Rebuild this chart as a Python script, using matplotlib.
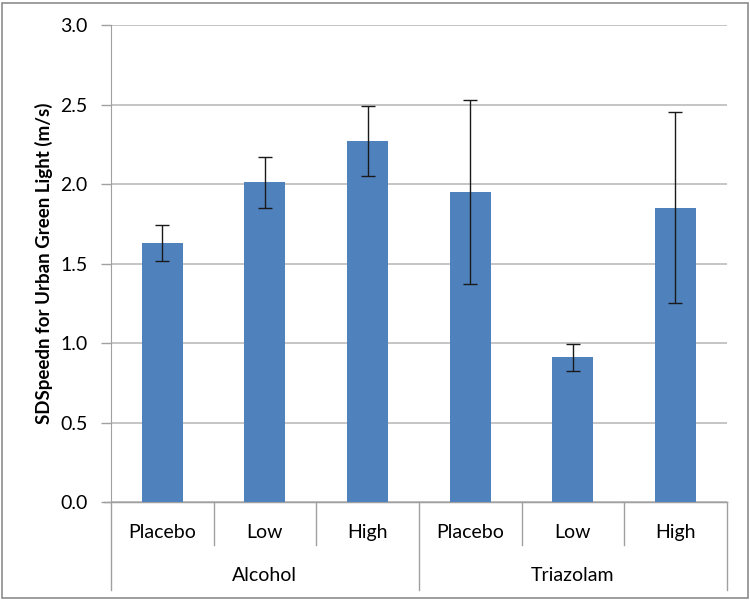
import matplotlib.pyplot as plt
from matplotlib.lines import Line2D
from matplotlib.patches import Rectangle

# data
grupos = ['Alcohol', 'Triazolam']
doses = ['Placebo', 'Low', 'High', 'Placebo', 'Low', 'High']
medias = [1.63, 2.01, 2.27, 1.95, 0.91, 1.85]
erros = [0.115, 0.16, 0.22, 0.58, 0.085, 0.60]

plt.rcParams['font.family'] = ['Lato', 'DejaVu Sans']

fig = plt.figure(figsize=(7.5, 6.01), dpi=100)
ax = fig.add_axes([0.148, 0.1647, 0.821, 0.7937])

x = list(range(len(doses)))
ax.bar(x, medias, width=0.4, color='#4F81BD', zorder=3)
ax.errorbar(x, medias, yerr=erros, fmt='none', ecolor='#1a1a1a', elinewidth=1,
            capsize=5, capthick=1, zorder=4)

ax.set_xlim(-0.5, 5.5)
ax.set_ylim(0, 3.0)
ax.set_yticks([0, 0.5, 1.0, 1.5, 2.0, 2.5, 3.0])
ax.set_yticklabels(['0.0', '0.5', '1.0', '1.5', '2.0', '2.5', '3.0'], fontsize=14)
ax.yaxis.grid(True, color='#C0C0C0', linewidth=1.3, zorder=0)
ax.set_xticks([])
ax.tick_params(axis='y', length=7, color='#A0A0A0', width=1, pad=10)
for s in ['top', 'right']:
    ax.spines[s].set_visible(False)
ax.spines['left'].set_color('#A0A0A0')
ax.spines['bottom'].set_color('#A0A0A0')

ax.set_ylabel('SDSpeedn for Urban Green Light (m/s)', fontsize=13.5,
              fontweight='bold', labelpad=5)

# eixo de categorias em dois níveis
trans = ax.get_xaxis_transform()
for i, d in enumerate(doses):
    ax.text(i, -0.064, d, transform=trans, ha='center', va='center', fontsize=14)
for j, g in enumerate(grupos):
    ax.text(j * 3 + 1, -0.154, g, transform=trans, ha='center', va='center', fontsize=14)
for b in [-0.5, 0.5, 1.5, 2.5, 3.5, 4.5, 5.5]:
    fundo = -0.185 if b in (-0.5, 2.5, 5.5) else -0.09
    ax.add_line(Line2D([b, b], [0, fundo], transform=trans, color='#A0A0A0',
                       linewidth=1, clip_on=False))
ax.add_line(Line2D([-0.57, 5.5], [0, 0], transform=trans, color='#A0A0A0',
                   linewidth=1, clip_on=False))

# borda do gráfico
fig.patches.append(Rectangle((0.003, 0.005), 0.994, 0.99, transform=fig.transFigure,
                             fill=False, edgecolor='#8C8C8C', linewidth=1.2))

plt.savefig('out.png', dpi=100)
